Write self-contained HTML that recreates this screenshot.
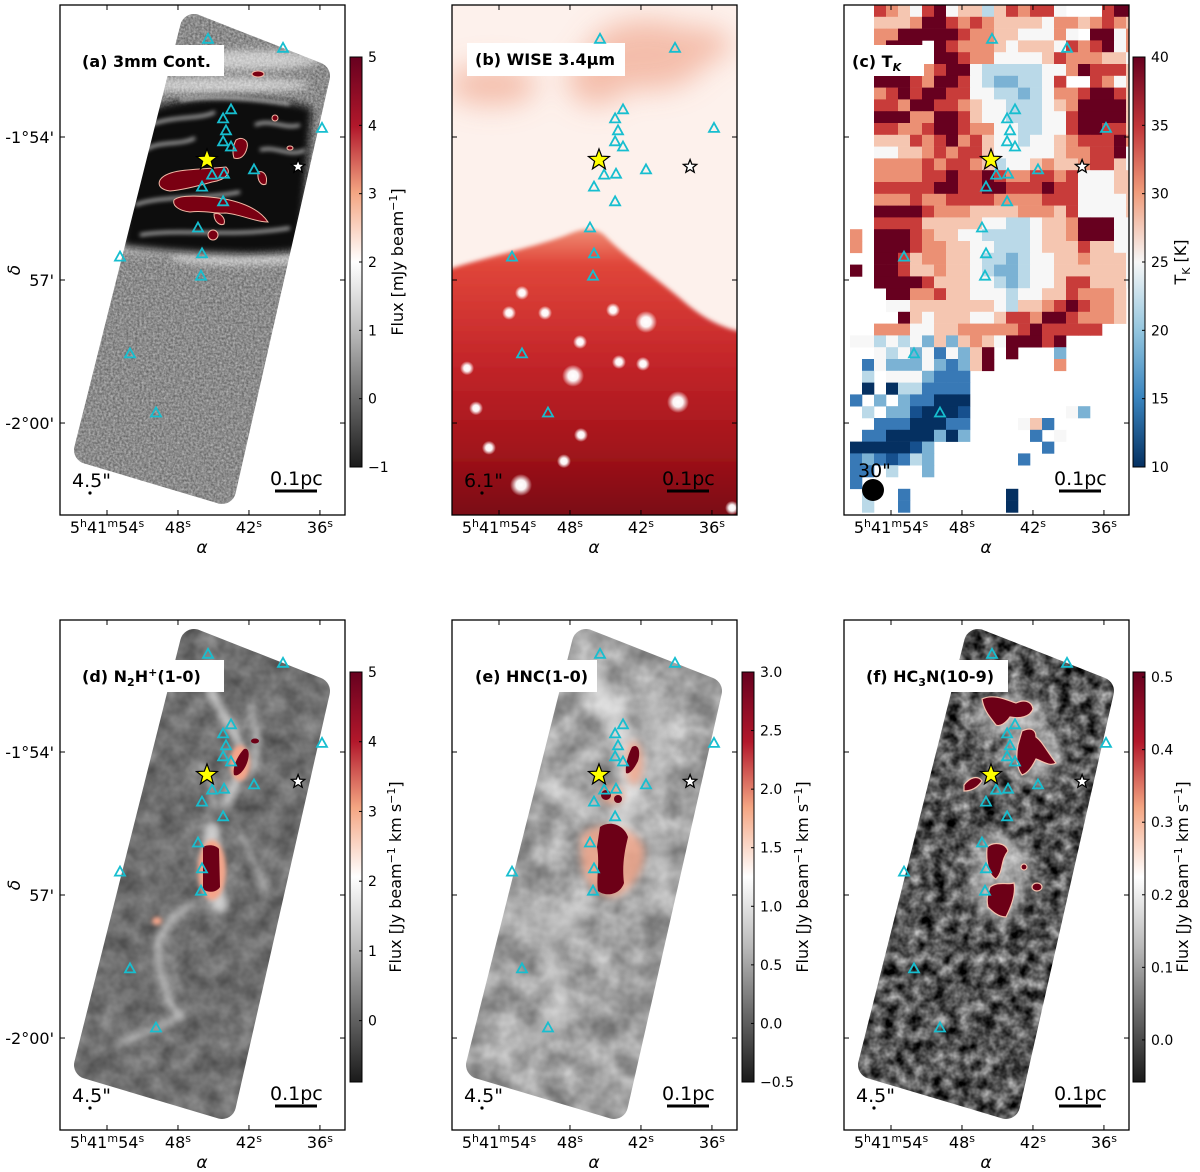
<!DOCTYPE html>
<html><head><meta charset="utf-8">
<style>
html,body{margin:0;padding:0;background:#fff;}
svg{display:block;font-family:"DejaVu Sans","Liberation Sans",sans-serif;}
</style></head>
<body>
<svg id="fig" xmlns="http://www.w3.org/2000/svg" width="1200" height="1172" viewBox="0 0 1200 1172">
<defs>
  <filter id="nzA" x="0" y="0" width="1" height="1" color-interpolation-filters="sRGB">
    <feTurbulence type="fractalNoise" baseFrequency="0.45" numOctaves="2" seed="3"/>
    <feColorMatrix type="matrix" values="0.45 0 0 0 0.32  0.45 0 0 0 0.32  0.45 0 0 0 0.32  0 0 0 0 1"/>
  </filter>
  <filter id="nzD" x="0" y="0" width="1" height="1" color-interpolation-filters="sRGB">
    <feTurbulence type="fractalNoise" baseFrequency="0.05" numOctaves="3" seed="7"/>
    <feColorMatrix type="matrix" values="0.35 0 0 0 0.26  0.35 0 0 0 0.26  0.35 0 0 0 0.26  0 0 0 0 1"/>
  </filter>
  <filter id="nzE" x="0" y="0" width="1" height="1" color-interpolation-filters="sRGB">
    <feTurbulence type="fractalNoise" baseFrequency="0.04" numOctaves="3" seed="11"/>
    <feColorMatrix type="matrix" values="0.5 0 0 0 0.37  0.5 0 0 0 0.37  0.5 0 0 0 0.37  0 0 0 0 1"/>
  </filter>
  <filter id="nzF" x="0" y="0" width="1" height="1" color-interpolation-filters="sRGB">
    <feTurbulence type="fractalNoise" baseFrequency="0.08" numOctaves="3" seed="5"/>
    <feColorMatrix type="matrix" values="1.1 0 0 0 -0.22  1.1 0 0 0 -0.22  1.1 0 0 0 -0.22  0 0 0 0 1"/>
  </filter>
  <filter id="bl2"><feGaussianBlur stdDeviation="2"/></filter>
  <filter id="bl4" x="-50%" y="-50%" width="200%" height="200%"><feGaussianBlur stdDeviation="4"/></filter>
  <filter id="bl8" x="-50%" y="-50%" width="200%" height="200%"><feGaussianBlur stdDeviation="8"/></filter>
  <filter id="bl14" x="-50%" y="-50%" width="200%" height="200%"><feGaussianBlur stdDeviation="14"/></filter>
  <mask id="fp" maskUnits="userSpaceOnUse" x="0" y="0" width="1200" height="1172">
    <polygon points="194,28 316,76 222,490 88,450" fill="#fff" stroke="#fff" stroke-width="28" stroke-linejoin="round"/>
  </mask>
  <clipPath id="frameClip"><rect x="60" y="5" width="285" height="510"/></clipPath>
  <linearGradient id="gRdGy" x1="0" y1="0" x2="0" y2="1">
    <stop offset="0" stop-color="#67001f"/><stop offset="0.17" stop-color="#b2182b"/>
    <stop offset="0.33" stop-color="#f4a582"/><stop offset="0.5" stop-color="#ffffff"/>
    <stop offset="0.67" stop-color="#bababa"/><stop offset="0.83" stop-color="#6a6a6a"/>
    <stop offset="1" stop-color="#1a1a1a"/>
  </linearGradient>
  <linearGradient id="gRdBu" x1="0" y1="0" x2="0" y2="1">
    <stop offset="0" stop-color="#67001f"/><stop offset="0.17" stop-color="#c13639"/>
    <stop offset="0.33" stop-color="#f09c7b"/><stop offset="0.5" stop-color="#f7f7f7"/>
    <stop offset="0.67" stop-color="#92c5de"/><stop offset="0.83" stop-color="#3a85bf"/>
    <stop offset="1" stop-color="#053061"/>
  </linearGradient>
  <linearGradient id="gWise" x1="0" y1="0" x2="0" y2="1">
    <stop offset="0" stop-color="#ef8c74"/><stop offset="0.12" stop-color="#e0463a"/>
    <stop offset="0.45" stop-color="#c4262a"/><stop offset="0.75" stop-color="#a3141b"/>
    <stop offset="1" stop-color="#780812"/>
  </linearGradient>
  <radialGradient id="gStar"><stop offset="0" stop-color="#fff"/><stop offset="0.45" stop-color="#fff" stop-opacity="0.95"/><stop offset="1" stop-color="#fff" stop-opacity="0"/></radialGradient>
</defs>

<g id="imgA">
  <g mask="url(#fp)">
    <rect x="60" y="5" width="285" height="510" filter="url(#nzA)"/>
    <g filter="url(#bl4)" fill="#fff" opacity="0.55">
      <ellipse cx="250" cy="60" rx="70" ry="10"/><ellipse cx="220" cy="85" rx="90" ry="8"/>
      <ellipse cx="170" cy="245" rx="70" ry="9"/><ellipse cx="240" cy="258" rx="70" ry="7"/>
    </g>
    <path d="M135,118 C170,92 260,92 312,108 L300,250 C250,258 170,252 122,246 Z" fill="#0e0e0e" filter="url(#bl4)"/>
    <g fill="none" stroke="#e8e8e8" stroke-width="3" opacity="0.8" filter="url(#bl2)">
      <path d="M150,125 C175,115 200,120 215,112"/><path d="M145,150 C160,140 180,146 195,138"/>
      <path d="M135,205 C160,195 200,200 240,192"/><path d="M255,125 C270,118 285,130 300,125"/>
      <path d="M140,235 C180,228 230,238 290,228"/><path d="M260,150 C275,145 290,158 305,150"/>
      <path d="M180,100 C210,95 250,98 290,104"/>
    </g>
    <g fill="#7a0012" stroke="#f2b8a5" stroke-width="1">
      <path d="M160,180 C168,168 198,170 226,167 C232,172 226,180 212,182 C198,186 182,190 170,191 C162,190 157,186 160,180 Z"/>
      <path d="M174,200 C180,194 205,196 225,199 C245,203 260,210 268,222 C255,222 240,214 225,213 C215,214 205,210 190,212 C180,211 172,206 174,200 Z"/>
      <path d="M214,214 C220,212 226,218 224,224 C220,226 214,222 214,214 Z"/>
      <path d="M236,140 C242,136 249,140 247,148 C245,156 240,160 234,158 C232,152 233,146 236,140 Z"/>
      <path d="M258,172 C264,170 268,176 266,184 C262,186 257,182 258,172 Z"/>
      <ellipse cx="213" cy="235" rx="5" ry="5"/><ellipse cx="258" cy="74" rx="6" ry="3"/>
      <ellipse cx="275" cy="118" rx="3" ry="3"/><ellipse cx="290" cy="148" rx="3" ry="2"/>
    </g>
  </g>
</g>

<g id="imgB" transform="translate(392,0)" clip-path="url(#frameClip)">
  <rect x="60" y="5" width="285" height="510" fill="#fdf1ec"/>
  <g filter="url(#bl14)" fill="#f3b5a0" opacity="0.85">
    <ellipse cx="255" cy="55" rx="60" ry="35"/><ellipse cx="205" cy="80" rx="30" ry="25"/>
    <ellipse cx="100" cy="85" rx="45" ry="20"/><ellipse cx="300" cy="45" rx="40" ry="18"/>
  </g>
  <path d="M55,270 C90,258 140,248 175,235 C190,228 205,226 215,238 C235,258 260,275 290,300 C310,318 330,328 350,332 L350,520 L55,520 Z" fill="url(#gWise)" filter="url(#bl2)"/>
</g>

<g id="imgC" clip-path="url(#frameClip)" transform="translate(784,0)"></g>

<g id="imgD" transform="translate(0,615)">
  <g mask="url(#fp)">
    <rect x="60" y="5" width="285" height="510" filter="url(#nzD)"/>
    <g fill="none" stroke="#e6e6e6" stroke-linecap="round" filter="url(#bl4)" opacity="0.8">
      <path d="M210,75 C220,95 230,110 240,130 C245,150 235,170 225,190" stroke-width="8"/>
      <path d="M250,90 C255,110 262,130 250,160" stroke-width="5"/>
      <path d="M200,150 C210,160 215,175 212,190" stroke-width="5"/>
      <path d="M212,215 C208,240 210,270 220,290" stroke-width="16"/>
      <path d="M190,290 C175,300 162,310 158,330 C157,350 165,370 168,385 C172,395 180,400 183,402" stroke-width="6"/>
      <path d="M183,402 C160,410 140,420 117,430" stroke-width="5"/>
      <path d="M240,220 C250,235 258,255 265,275" stroke-width="4"/>
    </g>
    <g fill="#f4a58a" filter="url(#bl2)"><ellipse cx="212" cy="255" rx="14" ry="30"/><ellipse cx="240" cy="148" rx="10" ry="18"/><ellipse cx="157" cy="306" rx="5" ry="4"/></g>
    <g fill="#6d0017">
      <path d="M203,232 C208,229 216,230 219,234 L220,272 C216,278 208,278 203,274 Z"/>
      <path d="M244,134 C249,132 250,140 247,148 C244,156 238,162 234,160 C232,152 238,140 244,134 Z"/>
      <ellipse cx="255" cy="126" rx="4" ry="2.5"/>
    </g>
  </g>
</g>

<g id="imgE" transform="translate(392,615)">
  <g mask="url(#fp)">
    <rect x="60" y="5" width="285" height="510" filter="url(#nzE)"/>
    <g fill="none" stroke="#f4f4f4" stroke-linecap="round" filter="url(#bl8)" opacity="0.75">
      <path d="M200,60 C215,90 235,120 240,160 C238,190 230,205 225,215" stroke-width="22"/>
      <path d="M150,170 C170,180 190,190 205,195" stroke-width="12"/>
      <path d="M255,80 C270,110 275,140 265,170" stroke-width="10"/>
      <path d="M190,290 C175,300 162,315 158,335 C160,360 168,380 175,395 C160,410 135,420 110,440" stroke-width="10"/>
      <path d="M260,220 C270,240 275,260 270,285" stroke-width="10"/>
      <path d="M130,300 C150,310 170,305 190,300" stroke-width="10"/>
    </g>
    <g fill="#f3a98e" filter="url(#bl4)" opacity="0.85"><path d="M190,220 C205,205 240,208 252,232 C255,255 238,278 222,282 C200,282 184,258 190,220 Z"/>
      <ellipse cx="242" cy="148" rx="9" ry="22"/><ellipse cx="220" cy="180" rx="12" ry="9"/></g>
    <g fill="#6d0017">
      <path d="M208,212 C218,205 232,210 236,222 C232,238 230,252 232,268 C228,280 214,282 206,276 C204,262 208,248 205,232 Z"/>
      <path d="M240,132 C246,128 249,136 246,146 C242,154 237,160 234,158 C233,150 236,140 240,132 Z"/>
      <ellipse cx="214" cy="180" rx="5" ry="5"/><ellipse cx="226" cy="184" rx="4" ry="4"/>
    </g>
  </g>
</g>

<g id="imgF" transform="translate(784,615)">
  <g mask="url(#fp)">
    <rect x="60" y="5" width="285" height="510" filter="url(#nzF)"/>
    <g fill="#e8e8e8" filter="url(#bl8)" opacity="0.6">
      <ellipse cx="225" cy="100" rx="38" ry="22"/><ellipse cx="250" cy="140" rx="30" ry="25"/>
      <ellipse cx="215" cy="262" rx="30" ry="45"/><ellipse cx="190" cy="168" rx="20" ry="8"/>
    </g>
    <g fill="#6d0017" stroke="#f6c2ae" stroke-width="1.2">
      <path d="M198,84 C210,78 225,86 232,88 C240,84 248,86 249,94 C246,102 236,104 226,102 C222,108 216,112 212,110 C206,102 200,96 198,84 Z"/>
      <path d="M238,116 C246,112 252,114 252,122 C258,126 262,135 272,148 C266,152 258,146 252,144 C248,152 244,158 238,160 C232,152 232,140 234,130 Z"/>
      <path d="M180,170 C186,162 194,160 198,166 C194,172 188,176 180,176 Z"/>
      <path d="M203,232 C210,226 222,228 224,236 C216,246 220,256 212,264 C204,260 202,246 203,232 Z"/>
      <path d="M206,272 C214,266 222,270 230,268 C232,278 228,290 222,302 C214,302 208,296 204,292 C202,284 204,278 206,272 Z"/>
      <ellipse cx="253" cy="272" rx="5" ry="4"/><ellipse cx="240" cy="252" rx="3" ry="3"/>
    </g>
  </g>
</g>

<g id="overlay"></g>
</svg>

<script>
const triRA  = [45.46,39.12,43.52,44.19,43.94,44.19,43.52,41.57,45.12,44.11,45.97,44.19,46.31,45.97,46.05,52.90,35.83,52.06,49.86];
const triDec = [51.95,52.14,53.43,53.62,53.87,54.10,54.21,54.69,54.80,54.78,55.05,55.36,55.91,56.45,56.92,56.52,53.82,58.55,59.79];
const starRA  = [45.55];
const starDec = [54.48];
const sourceRA  = [37.85];
const sourceDec = [54.62];
const raTicks = [54,48,42,36];
const raLabels = [["5","h","41","m","54","s"],["48","s"],["42","s"],["36","s"]];
const decTicks = [54,57,60];
const decLabels = ["-1\u00b054'","57'","-2\u00b000'"];
const wiseRA  = [52.06,53.15,50.11,41.57,47.74,38.87,52.14,47.15,34.30,43.86,41.83,47.07,54.85,56.70,48.51,44.36,55.94];
const wiseDec = [57.27,57.69,57.69,57.88,59.01,59.56,61.30,58.30,61.78,58.72,58.76,60.25,60.52,58.85,60.80,57.63,59.69];
const wiseBright = [1,1,1,2,2,2,2,1,1,1,1,1,1,1,1,1,1];
const tkLevels = [10,13,16,19,22,25,28,31,35,40];
const tkRows = [
"..8765895664687885...899",
"..6667998787666657767876",
"..77999998776655575.9957",
"..7999.98777656665878957",
"..9997.99877555568777665",
"..7.78789954444455798886",
"..9998799854334458..8756",
"..7898998855443457789986",
"..8879988765544456799996",
"..9997799865544455899996",
"..8877899877554455899886",
"..6668789786554556788897",
"..5566787886555556778895",
"..7777878876455676678865",
"..7777889889877887855566",
"..8888899889988898855566",
"..7778778888777788855556",
"..9999877766667776855556",
"..8888666665544566799955",
"7.9998766554444566799955",
"7.9998776655444566686655",
"..9986776654434556676665",
"9.9986676654334556666665",
"..9999866655434556886665",
"...99778665554556687776.",
"...55666666654667898776.",
"....9656665568879987776.",
"..7775566777778988888...",
"554545363676599989......",
"..5453525369.9...3......",
".25333532369.....7......",
".4.5553222..............",
".0.0442222..............",
"2.3.322000..............",
".4.3310001........53....",
"..22200022....562.......",
".220000303.....2.5......",
"0000013.........2.......",
"2321243.......2.........",
"22.4..3.................",
"2.......................",
".4..2........0..........",
".4..2........0.........."];
const cbTicksA = [5,4,3,2,1,0,-1];
const cbTicksC = [40,35,30,25,20,15,10];
const cbTicksD = [5,4,3,2,1,0];
const cbTicksE = [3.0,2.5,2.0,1.5,1.0,0.5,0.0,-0.5];
const cbTicksF = [0.5,0.4,0.3,0.2,0.1,0.0];

const NS = "http://www.w3.org/2000/svg";
const ov = document.getElementById('overlay');
function mk(tag, attrs, parent){ const e=document.createElementNS(NS,tag); for(const k in attrs) e.setAttribute(k,attrs[k]); (parent||ov).appendChild(e); return e; }
const panels = [
 {id:'a',ox:0,oy:0},{id:'b',ox:392,oy:0},{id:'c',ox:784,oy:0},
 {id:'d',ox:0,oy:615},{id:'e',ox:392,oy:615},{id:'f',ox:784,oy:615}];
function xPix(sec,p){ return 107 + (54-sec)*11.83 + p.ox; }
function yPix(dm,p){ return 137 + (dm-54)*47.67 + p.oy; }
function starPath(cx,cy,R,r){ let d=''; for(let i=0;i<10;i++){ const a=-Math.PI/2+i*Math.PI/5; const rr=i%2?r:R; d+=(i?'L':'M')+(cx+rr*Math.cos(a)).toFixed(1)+','+(cy+rr*Math.sin(a)).toFixed(1);} return d+'Z'; }
const minus = v => (v<0?'\u2212':'')+Math.abs(v);

function tkColor(t){
  const stops=[[10,[5,48,97]],[15,[33,102,172]],[20,[146,197,222]],[25,[247,247,247]],[30,[244,165,130]],[35,[200,60,58]],[40,[103,0,31]]];
  for(let i=0;i<stops.length-1;i++){ const [t0,c0]=stops[i],[t1,c1]=stops[i+1];
    if(t<=t1){ const f=(t-t0)/(t1-t0); return 'rgb('+c0.map((c,j)=>Math.round(c+(c1[j]-c)*f)).join(',')+')'; } }
  return 'rgb(103,0,31)';
}
const gC = document.getElementById('imgC');
tkRows.forEach((row,r)=>{ for(let c=0;c<row.length;c++){ const ch=row[c]; if(ch==='.') continue;
  const t=tkLevels[+ch];
  const cell=mk('rect',{x:66+12*c,y:(5+11.8*r).toFixed(1),width:12.3,height:12.1,fill:tkColor(t)},gC);
  
  
}});

const gB = document.getElementById('imgB');
wiseRA.forEach((ra,i)=>{
  const p={ox:0,oy:0};
  const s=mk('circle',{cx:xPix(ra,p),cy:yPix(wiseDec[i],p),r:wiseBright[i]==2?11:7,fill:'url(#gStar)'},gB);
  
  
});

const titles = {a:'(a) 3mm Cont.',b:'(b) WISE 3.4\u03bcm',e:'(e) HNC(1-0)'};
const boxes = {a:[74,45,150,31],b:[467,43,158,33],c:[844,45,80,31],d:[74,660,150,32],e:[467,660,130,32],f:[858,660,150,32]};
panels.forEach(p=>{
  const fx=60+p.ox, fy=5+p.oy;
  const bx=boxes[p.id];
  const br=mk('rect',{x:bx[0],y:bx[1],width:bx[2],height:bx[3],fill:'#fff'});
  
  
  const tt=mk('text',{x:bx[0]+8,y:bx[1]+22,'font-size':16,'font-weight':'bold',fill:'#000'});
  
  
  if(p.id==='c'){ tt.textContent='(c) T'; const s=mk('tspan',{'font-size':11,dy:4,'font-style':'italic'},tt); s.textContent='K'; }
  else if(p.id==='d'){ tt.textContent='(d) N'; const s1=mk('tspan',{'font-size':11,dy:4},tt); s1.textContent='2'; const s2=mk('tspan',{dy:-4},tt); s2.textContent='H'; const s3=mk('tspan',{'font-size':11,dy:-6},tt); s3.textContent='+'; const s4=mk('tspan',{dy:6},tt); s4.textContent='(1-0)'; }
  else if(p.id==='f'){ tt.textContent='(f) HC'; const s1=mk('tspan',{'font-size':11,dy:4},tt); s1.textContent='3'; const s2=mk('tspan',{dy:-4},tt); s2.textContent='N(10-9)'; }
  else tt.textContent=titles[p.id];

  triRA.forEach((ra,i)=>{ const x=xPix(ra,p), y=yPix(triDec[i],p);
    const t=mk('path',{d:`M${x.toFixed(1)},${(y-5.5).toFixed(1)}L${(x+5).toFixed(1)},${(y+3.5).toFixed(1)}L${(x-5).toFixed(1)},${(y+3.5).toFixed(1)}Z`,fill:'none',stroke:'#17becf','stroke-width':1.8});
    
    
  });
  starRA.forEach((ra,i)=>{ const s=mk('path',{d:starPath(xPix(ra,p),yPix(starDec[i],p),11,4.6),fill:'#ffff00',stroke:'#000','stroke-width':1.2});
    
     });
  sourceRA.forEach((ra,i)=>{ const s=mk('path',{d:starPath(xPix(ra,p),yPix(sourceDec[i],p),7,3),fill:'#fff',stroke:'#000','stroke-width':1.3});
    
     });

  const fr=mk('rect',{x:fx,y:fy,width:285,height:510,fill:'none',stroke:'#000','stroke-width':1.3});
  
  
  raTicks.forEach((ra,i)=>{ const x=xPix(ra,p);
    const t1=mk('line',{x1:x,y1:fy,x2:x,y2:fy+5,stroke:'#000','stroke-width':1});  
    const t2=mk('line',{x1:x,y1:fy+510,x2:x,y2:fy+505,stroke:'#000','stroke-width':1});  
    const lb=mk('text',{x:x,y:fy+528,'font-size':16,'text-anchor':'middle',fill:'#000'});
    
    
    const parts=raLabels[i];
    for(let k=0;k<parts.length;k++){ const sp=mk('tspan',k%2?{'font-size':11,dy:-6}:{dy:k?6:0},lb); sp.textContent=parts[k]; }
  });
  decTicks.forEach((d,i)=>{ const y=yPix(d,p);
    const t1=mk('line',{x1:fx,y1:y,x2:fx+5,y2:y,stroke:'#000','stroke-width':1});  
    const t2=mk('line',{x1:fx+285,y1:y,x2:fx+280,y2:y,stroke:'#000','stroke-width':1});  
    if(p.ox===0){ const lb=mk('text',{x:54,y:y+6,'font-size':16,'text-anchor':'end',fill:'#000'});
      
      
      lb.textContent=decLabels[i]; }
  });
  const ax=mk('text',{x:fx+142,y:fy+548,'font-size':17,'font-style':'italic','text-anchor':'middle',fill:'#000'});
  
  
  ax.textContent='\u03b1';
  if(p.ox===0){ const ay=mk('text',{x:0,y:0,'font-size':17,'font-style':'italic','text-anchor':'middle',fill:'#000',transform:`translate(20,${fy+265}) rotate(-90)`});
    
    
    ay.textContent='\u03b4'; }

  const bl=mk('text',{x:fx+(p.id==='c'?14:12),y:fy+(p.id==='c'?472:482),'font-size':19,fill:'#000'});
  
  
  bl.textContent = p.id==='b'?'6.1"':(p.id==='c'?'30"':'4.5"');
  const bm=mk('circle',{cx:fx+(p.id==='c'?29:30),cy:fy+(p.id==='c'?485:488),r:p.id==='c'?11:1.6,fill:'#000'});
  
  
  const sb=mk('text',{x:fx+210,y:fy+480,'font-size':19,fill:'#000'});
  
  
  sb.textContent='0.1pc';
  const sl=mk('line',{x1:fx+215,y1:fy+486,x2:fx+257,y2:fy+486,stroke:'#000','stroke-width':3});
  
  
});

const cbs = [
 {x:350,y:57,ticks:cbTicksA,lo:-1,hi:5,grad:'gRdGy',fmt:v=>minus(v),label:'Flux [mJy beam',sup:'\u22121',tail:']',lx:403},
 {x:1133,y:57,ticks:cbTicksC,lo:10,hi:40,grad:'gRdBu',fmt:v=>String(v),label:'TK',lx:1186},
 {x:350,y:672,ticks:cbTicksD,lo:-0.88,hi:5,grad:'gRdGy',fmt:v=>minus(v),label:'Flux [Jy beam',sup:'\u22121',tail:' km s',lx:401},
 {x:742,y:672,ticks:cbTicksE,lo:-0.5,hi:3.0,grad:'gRdGy',fmt:v=>(v<0?'\u2212':'')+Math.abs(v).toFixed(1),label:'Flux [Jy beam',sup:'\u22121',tail:' km s',lx:808},
 {x:1133,y:672,ticks:cbTicksF,lo:-0.058,hi:0.507,grad:'gRdGy',fmt:v=>v.toFixed(1),label:'Flux [Jy beam',sup:'\u22121',tail:' km s',lx:1188}];
cbs.forEach(cb=>{
  const H=410, W=12;
  const r=mk('rect',{x:cb.x,y:cb.y,width:W,height:H,fill:`url(#${cb.grad})`,stroke:'#000','stroke-width':1});
  
  
  cb.ticks.forEach(v=>{ const y=cb.y+(cb.hi-v)/(cb.hi-cb.lo)*H;
    const tk=mk('line',{x1:cb.x+W-3,y1:y,x2:cb.x+W,y2:y,stroke:'#000','stroke-width':1});
    
    
    const t=mk('text',{x:cb.x+W+6,y:y+5,'font-size':14,fill:'#000'});
    
    
    t.textContent=cb.fmt(v);
  });
  const cy=cb.y+H/2;
  const lb=mk('text',{x:0,y:0,'font-size':16,'text-anchor':'middle',fill:'#000',transform:`translate(${cb.lx},${cy}) rotate(-90)`});
  
  
  if(cb.label==='TK'){ lb.textContent='T'; const s=mk('tspan',{'font-size':11,dy:4},lb); s.textContent='K'; const s2=mk('tspan',{dy:-4},lb); s2.textContent=' [K]'; }
  else { lb.textContent=cb.label; const s=mk('tspan',{'font-size':11,dy:-6},lb); s.textContent=cb.sup; const s2=mk('tspan',{dy:6},lb); s2.textContent=cb.tail;
    if(cb.tail!==']'){ const s3=mk('tspan',{'font-size':11,dy:-6},lb); s3.textContent='\u22121'; const s4=mk('tspan',{dy:6},lb); s4.textContent=']'; } }
});
</script>
</body></html>
